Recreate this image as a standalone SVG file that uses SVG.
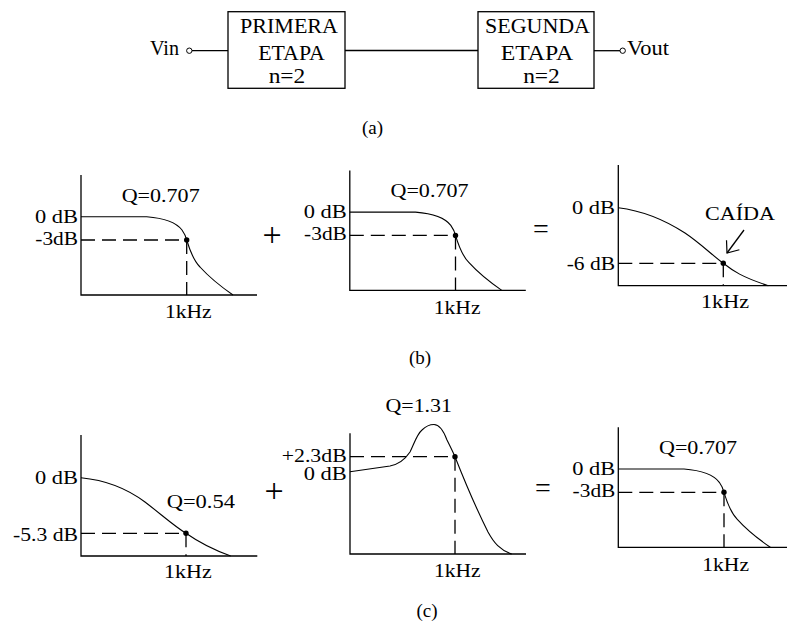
<svg xmlns="http://www.w3.org/2000/svg" width="787" height="624" viewBox="0 0 787 624" font-family="'Liberation Serif','Times New Roman','DejaVu Serif',serif">
<defs>
<style>
text{font-family:'Liberation Serif','Times New Roman','DejaVu Serif',serif;fill:#000}
.lbl{font-size:18px}
.blk{font-size:21.5px;text-anchor:middle}
.cap{font-size:19px;text-anchor:middle}
.op{font-size:28px;text-anchor:middle}
.plus{font-size:34px;text-anchor:middle}
.end{text-anchor:end}
.ln{fill:none;stroke:#000;stroke-width:1.3}
.cv{fill:none;stroke:#000;stroke-width:1.1}
.ds{fill:none;stroke:#000;stroke-width:1.3;stroke-dasharray:14 7}
.box{fill:#fff;stroke:#000;stroke-width:1.3}
.term{fill:#fff;stroke:#000;stroke-width:1}
</style>
<marker id="openArrow" viewBox="-12 -10 14 20" refX="0" refY="0" markerWidth="14" markerHeight="20" markerUnits="userSpaceOnUse" orient="auto">
<path d="M-10,-8 L0,0 L-10,8" fill="none" stroke="#000" stroke-width="1.2"/>
</marker>
</defs>
<rect width="787" height="624" fill="#fff"/>

<g id="connectors">
<line class="ln" x1="192" y1="50.7" x2="228" y2="50.7"/>
<line class="ln" x1="345" y1="50.5" x2="478" y2="50.5"/>
<line class="ln" x1="594" y1="50.7" x2="620" y2="50.7"/>
<line class="ln" x1="744" y1="230" x2="727" y2="253" marker-end="url(#openArrow)"/>
</g>

<g id="vin">
<text class="lbl" x="150" y="55" style="font-size:20px" textLength="29" lengthAdjust="spacingAndGlyphs">Vin</text>
<circle class="term" cx="189.3" cy="50.7" r="2.7"/>
</g>
<g id="vout">
<circle class="term" cx="622.7" cy="50.7" r="2.7"/>
<text class="lbl" x="627" y="55" style="font-size:20px" textLength="42" lengthAdjust="spacingAndGlyphs">Vout</text>
</g>

<g id="primera-etapa">
<rect class="box" x="228" y="11.7" width="117" height="76.6"/>
<text class="blk" x="289" y="33.3" textLength="98" lengthAdjust="spacingAndGlyphs">PRIMERA</text>
<text class="blk" x="291.5" y="60" textLength="66.7" lengthAdjust="spacingAndGlyphs">ETAPA</text>
<text class="blk" x="287" y="83.3" textLength="36.7" lengthAdjust="spacingAndGlyphs">n=2</text>
</g>
<g id="segunda-etapa">
<rect class="box" x="478" y="11.7" width="116" height="76.6"/>
<text class="blk" x="537.5" y="33.3" textLength="105" lengthAdjust="spacingAndGlyphs">SEGUNDA</text>
<text class="blk" x="537" y="60" textLength="72.6" lengthAdjust="spacingAndGlyphs">ETAPA</text>
<text class="blk" x="541.5" y="83.3" textLength="36.7" lengthAdjust="spacingAndGlyphs">n=2</text>
</g>
<text class="cap" x="372.5" y="134">(a)</text>

<!-- (b) row -->
<g id="plot-b1">
<path class="ln" d="M81,175 V295 H257"/>
<path class="cv" d="M81,216.7 H146.7 C163,218 176,222 182,230 C184.5,233.5 186,237 186.7,240 C190,251 194,261 200,267 C210,278 220,286 233,295"/>
<path class="ds" d="M81,240 H186.7 M186.7,240 V295"/>
<circle cx="186.7" cy="240" r="2.7"/>
<text class="lbl" x="121.7" y="201.7" textLength="78" lengthAdjust="spacingAndGlyphs">Q=0.707</text>
<text class="lbl end" x="78" y="222.7" textLength="43" lengthAdjust="spacingAndGlyphs">0 dB</text>
<text class="lbl end" x="78" y="245" textLength="42.7" lengthAdjust="spacingAndGlyphs">-3dB</text>
<text class="lbl" x="165" y="318.3" textLength="46.7" lengthAdjust="spacingAndGlyphs">1kHz</text>
</g>
<text class="plus" x="272" y="245.5">+</text>
<g id="plot-b2" transform="translate(268.8,-4.6)">
<path class="ln" d="M81,175 V295 H257"/>
<path class="cv" d="M81,216.7 H146.7 C163,218 176,222 182,230 C184.5,233.5 186,237 186.7,240 C190,251 194,261 200,267 C210,278 220,286 233,295"/>
<path class="ds" d="M81,240 H186.7 M186.7,240 V295"/>
<circle cx="186.7" cy="240" r="2.7"/>
<text class="lbl" x="121.7" y="201.7" textLength="78" lengthAdjust="spacingAndGlyphs">Q=0.707</text>
<text class="lbl end" x="78" y="222.7" textLength="43" lengthAdjust="spacingAndGlyphs">0 dB</text>
<text class="lbl end" x="78" y="245" textLength="42.7" lengthAdjust="spacingAndGlyphs">-3dB</text>
<text class="lbl" x="165" y="318.3" textLength="46.7" lengthAdjust="spacingAndGlyphs">1kHz</text>
</g>
<text class="op" x="541" y="238">=</text>
<g id="plot-b3">
<path class="ln" d="M618.3,165 V285.7 H787"/>
<path class="cv" d="M618.3,207.7 C645,211 665,220 685,233 C700,243 712,255 723.3,263.3 C733,271 742,277 768.3,285.7"/>
<path class="ds" d="M618.3,263.3 H723.3 M723.3,263.3 V285.7"/>
<circle cx="723.3" cy="263.3" r="2.7"/>
<text class="lbl end" x="615" y="214" textLength="43" lengthAdjust="spacingAndGlyphs">0 dB</text>
<text class="lbl end" x="615" y="270" textLength="48.3" lengthAdjust="spacingAndGlyphs">-6 dB</text>
<text class="lbl" x="705" y="220" textLength="70" lengthAdjust="spacingAndGlyphs">CAÍDA</text>
<text class="lbl" x="701" y="308.3" textLength="48" lengthAdjust="spacingAndGlyphs">1kHz</text>
</g>
<text class="cap" x="420" y="364">(b)</text>

<!-- (c) row -->
<g id="plot-c1">
<path class="ln" d="M81,435 V556 H257.3"/>
<path class="cv" d="M81,477.7 C105,480 125,487 145,502 C162,515 174,526 186,533.3 C197,541 208,548 230.7,556"/>
<path class="ds" d="M81,533.3 H186 M186,533.3 V556"/>
<circle cx="186" cy="533.3" r="2.7"/>
<text class="lbl" x="166.7" y="508.3" textLength="68.3" lengthAdjust="spacingAndGlyphs">Q=0.54</text>
<text class="lbl end" x="78" y="484.3" textLength="43" lengthAdjust="spacingAndGlyphs">0 dB</text>
<text class="lbl end" x="78" y="540.7" textLength="65" lengthAdjust="spacingAndGlyphs">-5.3 dB</text>
<text class="lbl" x="164" y="578.3" textLength="47.7" lengthAdjust="spacingAndGlyphs">1kHz</text>
</g>
<text class="plus" x="274" y="502">+</text>
<g id="plot-c2">
<path class="ln" d="M350,433.3 V554 H526"/>
<path class="cv" d="M350,471.7 L390,466 C400,464 406,458 410,452 C414,444 417,434 422,430 C426,426 430,424.5 434,424.5 C440,424.5 444,432 447,440 C450,446 453,452 455,456.7 C463,477 478,512 488,532 C494,543 500,550 511.7,554"/>
<path class="ds" d="M350,456.7 H455 M455,456.7 V554"/>
<circle cx="455" cy="456.7" r="2.7"/>
<text class="lbl" x="385.5" y="411.7" textLength="66.5" lengthAdjust="spacingAndGlyphs">Q=1.31</text>
<text class="lbl end" x="346.7" y="461.7" textLength="65" lengthAdjust="spacingAndGlyphs">+2.3dB</text>
<text class="lbl end" x="346.7" y="480" textLength="43" lengthAdjust="spacingAndGlyphs">0 dB</text>
<text class="lbl" x="434" y="576.7" textLength="46.7" lengthAdjust="spacingAndGlyphs">1kHz</text>
</g>
<text class="op" x="543" y="497">=</text>
<g id="plot-c3" transform="translate(537.3,252.3)">
<path class="ln" d="M81,175 V295 H257"/>
<path class="cv" d="M81,216.7 H146.7 C163,218 176,222 182,230 C184.5,233.5 186,237 186.7,240 C190,251 194,261 200,267 C210,278 220,286 233,295"/>
<path class="ds" d="M81,240 H186.7 M186.7,240 V295"/>
<circle cx="186.7" cy="240" r="2.7"/>
<text class="lbl" x="121.7" y="201.7" textLength="78" lengthAdjust="spacingAndGlyphs">Q=0.707</text>
<text class="lbl end" x="78" y="222.7" textLength="43" lengthAdjust="spacingAndGlyphs">0 dB</text>
<text class="lbl end" x="78" y="245" textLength="42.7" lengthAdjust="spacingAndGlyphs">-3dB</text>
<text class="lbl" x="165" y="318.3" textLength="46.7" lengthAdjust="spacingAndGlyphs">1kHz</text>
</g>
<text class="cap" x="427" y="617">(c)</text>
</svg>
